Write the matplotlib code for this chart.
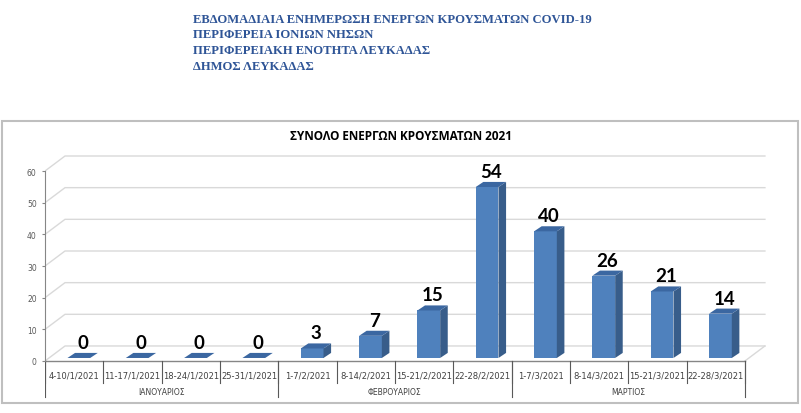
import matplotlib.pyplot as plt
from matplotlib.patches import Polygon, Rectangle

header = [
    "ΕΒΔΟΜΑΔΙΑΙΑ ΕΝΗΜΕΡΩΣΗ ΕΝΕΡΓΩΝ ΚΡΟΥΣΜΑΤΩΝ COVID-19",
    "ΠΕΡΙΦΕΡΕΙΑ ΙΟΝΙΩΝ ΝΗΣΩΝ",
    "ΠΕΡΙΦΕΡΕΙΑΚΗ ΕΝΟΤΗΤΑ ΛΕΥΚΑΔΑΣ",
    "ΔΗΜΟΣ ΛΕΥΚΑΔΑΣ",
]
chart_title = "ΣΥΝΟΛΟ ΕΝΕΡΓΩΝ ΚΡΟΥΣΜΑΤΩΝ 2021"
weeks = ["4-10/1/2021", "11-17/1/2021", "18-24/1/2021", "25-31/1/2021",
         "1-7/2/2021", "8-14/2/2021", "15-21/2/2021", "22-28/2/2021",
         "1-7/3/2021", "8-14/3/2021", "15-21/3/2021", "22-28/3/2021"]
months = ["ΙΑΝΟΥΑΡΙΟΣ", "ΦΕΒΡΟΥΑΡΙΟΣ", "ΜΑΡΤΙΟΣ"]
weeks_per_month = [4, 4, 4]
cases = [0, 0, 0, 0, 3, 7, 15, 54, 40, 26, 21, 14]
yticks = [0, 10, 20, 30, 40, 50, 60]

# 3d look
back_dx, back_dy = 0.343, 4.74
bar_w, bar_shift, bar_base = 0.39, 0.08, 0.95
side_dx, side_dy = 0.13, 1.6
front_c, side_c, top_c = "#4F81BD", "#385D8A", "#3B67A1"
grid_c = "#D9D9D9"

fig = plt.figure(figsize=(8.01, 4.14), dpi=100)

# header lines
for k, line in enumerate(header):
    fig.text(193 / 801, 1 - (20 + 15.5 * k) / 414, line, color="#2F5597",
             fontsize=9.1, fontweight="bold", family="Liberation Serif",
             va="center", ha="left")

# chart frame
fig.patches.append(Rectangle((2 / 801, 10 / 414), 796 / 801, 282 / 414,
                             transform=fig.transFigure, fill=False,
                             edgecolor="#BFBFBF", linewidth=1.5))
fig.text(0.5, 1 - 137 / 414, chart_title, ha="center", va="center",
         fontsize=8.5, fontweight="bold", family="Open Sans")

ax = fig.add_axes([45 / 801, 11 / 414, 725 / 801, 253 / 414])
n = len(cases)
ax.set_xlim(-0.5, 11.93)
ax.set_ylim(-12.95, 66.95)
for s in ["top", "right", "bottom"]:
    ax.spines[s].set_visible(False)
ax.spines["left"].set_bounds(0, yticks[-1])
ax.spines["left"].set_color("#868686")
ax.set_xticks([])
ax.set_yticks(yticks)
ax.tick_params(axis="y", length=2, color="#868686", labelsize=5.5,
               labelcolor="#595959", pad=4)

xr = n - 0.5
# back walls / gridlines
for v in yticks:
    ax.plot([-0.5, -0.5 + back_dx, xr + back_dx], [v, v + back_dy, v + back_dy],
            color=grid_c, lw=1, zorder=1)
ax.plot([xr, xr + back_dx], [0, back_dy], color=grid_c, lw=1, zorder=1)
ax.plot([-0.5, xr], [0, 0], color="#868686", lw=1, zorder=2)

# bars
for i, v in enumerate(cases):
    x0 = i - bar_w / 2 + bar_shift
    x1 = x0 + bar_w
    y0, y1 = bar_base, bar_base + v
    ax.add_patch(Rectangle((x0, y0), bar_w, v, facecolor=front_c,
                           edgecolor="none", zorder=3))
    ax.add_patch(Polygon([(x1, y0), (x1 + side_dx, y0 + side_dy),
                          (x1 + side_dx, y1 + side_dy), (x1, y1)],
                         facecolor=side_c, edgecolor="none", zorder=3))
    ax.add_patch(Polygon([(x0, y1), (x1, y1), (x1 + side_dx, y1 + side_dy),
                          (x0 + side_dx, y1 + side_dy)],
                         facecolor=top_c, edgecolor="none", zorder=3))
    ax.text(i + bar_shift + side_dx / 2, y1 + side_dy + 1.6, str(v),
            ha="center", va="baseline", fontsize=13.5, fontweight="bold",
            family="Lato", zorder=4)

# category labels and separators
for i, w in enumerate(weeks):
    ax.text(i, -4.4, w, ha="center", va="center", fontsize=6,
            color="#404040")
for i in range(n + 1):
    ax.plot([i - 0.5, i - 0.5], [0, -7.0], color="#595959", lw=0.8)
start = 0
for m, cnt in zip(months, weeks_per_month):
    ax.plot([start - 0.5, start - 0.5], [0, -11.4], color="#595959", lw=0.8)
    ax.text(start + (cnt - 1) / 2, -9.6, m, ha="center", va="center",
            fontsize=5.5, color="#404040")
    start += cnt
ax.plot([start - 0.5, start - 0.5], [0, -11.4], color="#595959", lw=0.8)

fig.savefig("out.png", dpi=100)
